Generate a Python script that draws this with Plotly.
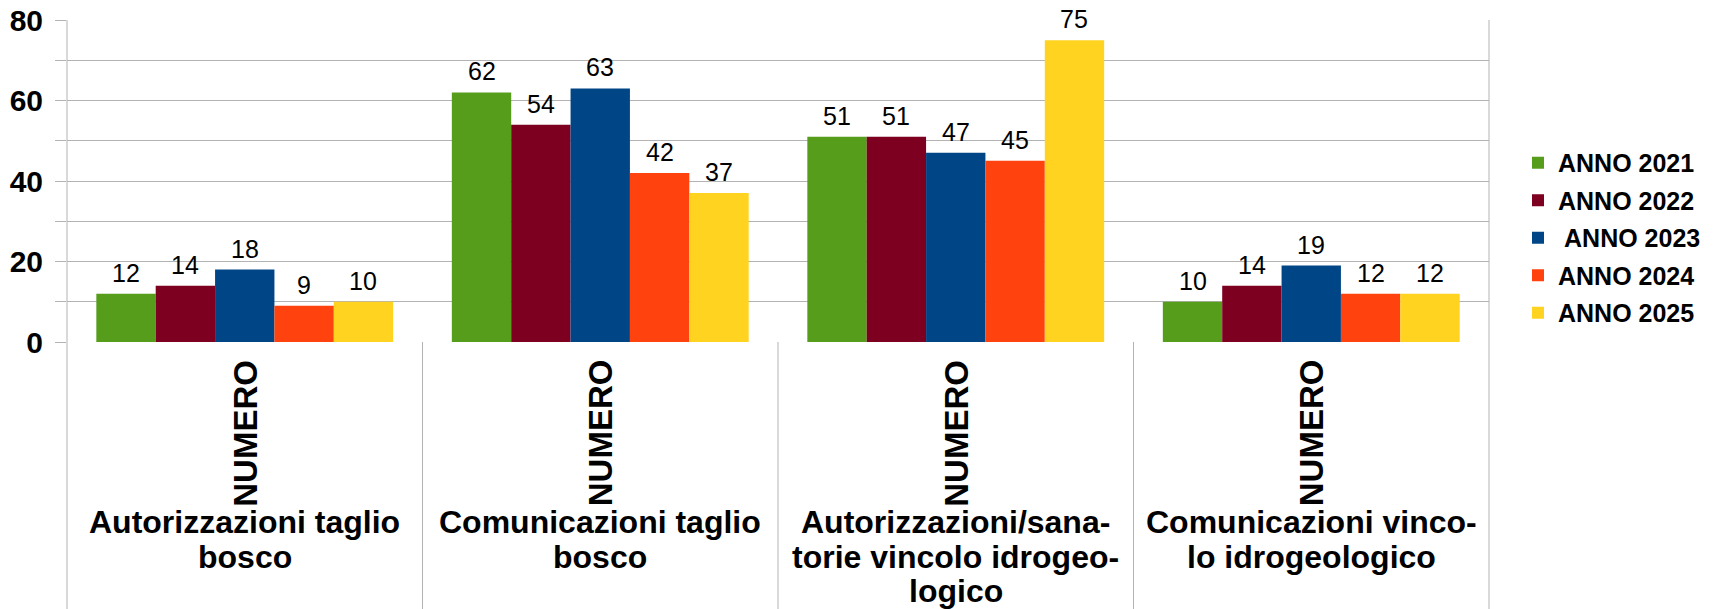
import plotly.graph_objects as go

categories = [
    "Autorizzazioni taglio<br>bosco",
    "Comunicazioni taglio<br>bosco",
    "Autorizzazioni/sana-<br>torie vincolo idrogeo-<br>logico",
    "Comunicazioni vinco-<br>lo idrogeologico",
]
sub_label = "NUMERO"
series_names = ["ANNO 2021", "ANNO 2022", " ANNO 2023", "ANNO 2024", "ANNO 2025"]
colors = ["#579D1C", "#7E0021", "#004586", "#FF420E", "#FFD320"]

anno_2021 = [12, 62, 51, 10]
anno_2022 = [14, 54, 51, 14]
anno_2023 = [18, 63, 47, 19]
anno_2024 = [9, 42, 45, 12]
anno_2025 = [10, 37, 75, 12]
series_values = [anno_2021, anno_2022, anno_2023, anno_2024, anno_2025]

y_ticks = [0, 20, 40, 60, 80]

FONT = "Liberation Sans, Arial, sans-serif"
GRID = "#b3b3b3"
BARGAP = 0.165

x_idx = list(range(len(categories)))

fig = go.Figure()
for name, vals, col in zip(series_names, series_values, colors):
    fig.add_trace(go.Bar(
        x=x_idx, y=vals, name=name, marker_color=col, marker_line_width=0,
        legendgroup=name,
    ))

# étiquettes de valeur au-dessus des barres
n = len(series_names)
bar_w = (1 - BARGAP) / n
for i, vals in enumerate(series_values):
    off = (i - (n - 1) / 2) * bar_w
    for j, v in enumerate(vals):
        fig.add_annotation(
            x=j + off, y=v, xref="x", yref="y", text=str(v), showarrow=False,
            xanchor="center", yanchor="middle", yshift=21,
            font=dict(size=25, color="black", family=FONT),
        )

# géométrie (px depuis le haut de la figure ; la page ajoute 8 px de marge)
W, H, T, B = 1723, 609, 12, 275
ph = H - T - B


def py(px_from_top):
    return (H - B - px_from_top) / ph


for j, cat in enumerate(categories):
    xc = (j + 0.5) / len(categories)
    fig.add_annotation(
        x=xc, y=py(425), xref="paper", yref="paper", text=sub_label,
        textangle=-90, showarrow=False, xanchor="center", yanchor="middle",
        font=dict(size=33, color="black", family=FONT, weight="bold"),
    )
    for k, line in enumerate(cat.split("<br>")):
        fig.add_annotation(
            x=xc, y=py(514 + 34.5 * k), xref="paper", yref="paper", text=line,
            showarrow=False, xanchor="center", yanchor="middle",
            font=dict(size=32, color="black", family=FONT, weight="bold"),
        )

# séparateurs verticaux
for k in range(len(categories) + 1):
    full = k in (0, len(categories))
    fig.add_shape(
        type="line", xref="paper", yref="paper", x0=k / len(categories), x1=k / len(categories),
        y0=-B / ph, y1=1 if full else 0, line=dict(color=GRID, width=1),
    )

fig.update_layout(
    width=W, height=H,
    margin=dict(l=59, r=242, t=T, b=B),
    plot_bgcolor="white", paper_bgcolor="white",
    barmode="group", bargap=BARGAP, bargroupgap=0,
    font=dict(family=FONT, color="black"),
    legend=dict(
        x=1.0204, y=0.323, xanchor="left", yanchor="middle",
        font=dict(size=25, family=FONT, weight="bold"), tracegroupgap=2,
        bgcolor="rgba(0,0,0,0)",
    ),
    xaxis=dict(showticklabels=False, showgrid=False, zeroline=False,
               range=[-0.5, 3.5], automargin=False),
    yaxis=dict(
        range=[0, 80], tickvals=y_ticks, automargin=False, ticklabeloverflow="allow",
        showgrid=True, gridcolor=GRID, gridwidth=1, zeroline=False,
        ticks="outside", ticklen=11, tickcolor=GRID, ticklabelstandoff=6,
        tickfont=dict(size=30, family=FONT, weight="bold"),
        minor=dict(dtick=10, showgrid=True, gridcolor=GRID, ticks="outside",
                   ticklen=11, tickcolor=GRID),
    ),
)

fig.write_html("out.html")
